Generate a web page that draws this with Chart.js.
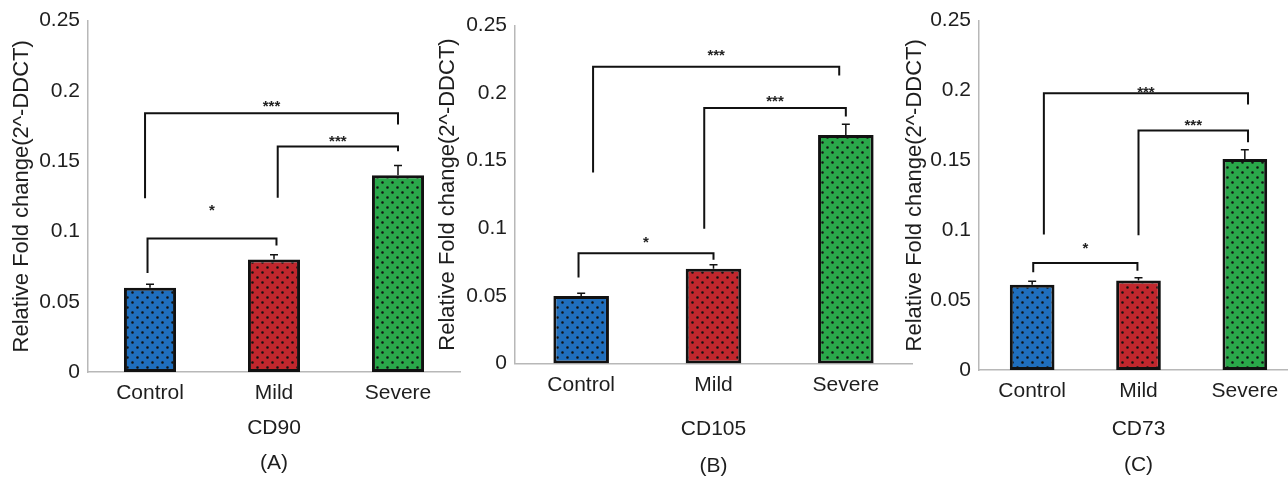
<!DOCTYPE html>
<html lang="en">
  <head>
    <meta charset="UTF-8" />
    <title>Relative Fold change</title>
    <style>
      html,
      body {
        margin: 0;
        padding: 0;
        background: #fff;
        overflow: hidden;
      }
      .panel {
        position: absolute;
        top: 0;
      }
    </style>
  </head>
  <body>
    <canvas id="cd90" class="panel" style="left: 0px" width="470" height="477"></canvas>
    <canvas id="cd105" class="panel" style="left: 430px" width="490" height="477"></canvas>
    <canvas id="cd73" class="panel" style="left: 890px" width="420" height="477"></canvas>

    <script src="https://cdn.jsdelivr.net/npm/chart.js"></script>
    <script>
      const groups = ["Control", "Mild", "Severe"];

      const cd90 = [0.06, 0.08, 0.14];
      const cd90Err = [0.0025, 0.0035, 0.007];
      const cd105 = [0.05, 0.07, 0.169];
      const cd105Err = [0.002, 0.003, 0.008];
      const cd73 = [0.061, 0.064, 0.151];
      const cd73Err = [0.0025, 0.002, 0.0066];

      // significance brackets: [from group, to group, bar height, left leg end, right leg end, stars, star height]
      const cd90Sig = [
        [-0.04, 2.0, 0.184, 0.1236, 0.176, "***", 0.191],
        [1.03, 2.0, 0.1605, 0.124, 0.157, "***", 0.166],
        [-0.02, 1.02, 0.095, 0.0705, 0.09, "*", 0.117],
      ];
      const cd105Sig = [
        [0.09, 1.95, 0.2194, 0.1413, 0.213, "***", 0.23],
        [0.93, 2.0, 0.189, 0.0996, 0.1826, "***", 0.196],
        [-0.02, 1.0, 0.0816, 0.0636, 0.0767, "*", 0.0915],
      ];
      const cd73Sig = [
        [0.11, 2.03, 0.198, 0.097, 0.19, "***", 0.2005],
        [1.0, 2.03, 0.1714, 0.0964, 0.163, "***", 0.177],
        [0.01, 0.99, 0.0766, 0.07, 0.071, "*", 0.089],
      ];

      const yTitle = "Relative Fold change(2^-DDCT)";
      const ink = "#1e1e1e";
      const axisGrey = "#b8b8b8";

      Chart.defaults.font.family = "'Liberation Sans', Arial, sans-serif";
      Chart.defaults.color = ink;

      // dotted fill, staggered rows of small black dots
      function dotted(color) {
        const tile = document.createElement("canvas");
        tile.width = 10;
        tile.height = 10;
        const c = tile.getContext("2d");
        c.fillStyle = color;
        c.fillRect(0, 0, 10, 10);
        c.fillStyle = "#111";
        c.beginPath();
        c.arc(2.5, 2.5, 1.3, 0, Math.PI * 2);
        c.arc(7.5, 7.5, 1.3, 0, Math.PI * 2);
        c.fill();
        return c.createPattern(tile, "repeat");
      }

      const barColors = ["#1f6ebd", "#c0272d", "#2aa84a"];

      const errorBars = (errors) => ({
        id: "errorBars",
        afterDatasetsDraw(chart) {
          const { ctx } = chart;
          const y = chart.scales.y;
          const values = chart.data.datasets[0].data;
          ctx.save();
          ctx.strokeStyle = "#111";
          ctx.lineWidth = 1.5;
          chart.getDatasetMeta(0).data.forEach((bar, i) => {
            const top = y.getPixelForValue(values[i] + errors[i]);
            ctx.beginPath();
            ctx.moveTo(bar.x, bar.y);
            ctx.lineTo(bar.x, top);
            ctx.moveTo(bar.x - 4, top);
            ctx.lineTo(bar.x + 4, top);
            ctx.stroke();
          });
          ctx.restore();
        },
      });

      const brackets = (pairs) => ({
        id: "brackets",
        afterDraw(chart) {
          const { ctx } = chart;
          const { x, y } = chart.scales;
          ctx.save();
          ctx.strokeStyle = "#111";
          ctx.lineWidth = 2;
          ctx.fillStyle = "#222";
          ctx.font = "bold 15px 'Liberation Sans', Arial, sans-serif";
          ctx.textAlign = "center";
          ctx.textBaseline = "middle";
          pairs.forEach(([a, b, top, endA, endB, mark, markY]) => {
            const xa = x.getPixelForValue(a);
            const xb = x.getPixelForValue(b);
            const yt = y.getPixelForValue(top);
            ctx.beginPath();
            ctx.moveTo(xa, y.getPixelForValue(endA));
            ctx.lineTo(xa, yt);
            ctx.lineTo(xb, yt);
            ctx.lineTo(xb, y.getPixelForValue(endB));
            ctx.stroke();
            ctx.fillText(mark, (xa + xb) / 2, y.getPixelForValue(markY) + 3);
          });
          ctx.restore();
        },
      });

      function makePanel(id, values, errors, sig, marker, letter, box) {
        return new Chart(document.getElementById(id), {
          type: "bar",
          data: {
            labels: groups,
            datasets: [
              {
                data: values,
                backgroundColor: barColors.map(dotted),
                borderColor: "#111",
                borderWidth: 3,
                borderSkipped: false,
                barPercentage: 0.42,
                categoryPercentage: 1,
              },
            ],
          },
          options: {
            responsive: false,
            animation: false,
            events: [],
            layout: { padding: { top: box.top, right: box.right, left: 0, bottom: 0 } },
            plugins: {
              legend: { display: false },
              tooltip: { enabled: false },
            },
            scales: {
              x: {
                offset: true,
                grid: { display: false, drawTicks: false },
                border: { display: true, color: axisGrey, width: 1.5 },
                ticks: { color: ink, padding: 9, font: { size: 21 } },
                title: {
                  display: true,
                  text: [marker, letter],
                  color: ink,
                  font: { size: 21, lineHeight: box.lh / 21 },
                  padding: { top: 0, bottom: box.pb },
                },
                afterFit: (s) => {
                  s.height = box.xh;
                },
              },
              y: {
                min: 0,
                max: 0.25,
                grid: { display: false, drawTicks: false },
                border: { display: true, color: axisGrey, width: 1.5 },
                ticks: {
                  stepSize: 0.05,
                  padding: 8,
                  color: ink,
                  font: { size: 21 },
                  callback: (v) => String(parseFloat(v.toFixed(2))),
                },
                title: {
                  display: true,
                  text: yTitle,
                  color: ink,
                  font: { size: 22 },
                  padding: { top: box.tp, bottom: 0 },
                },
                afterFit: (s) => {
                  s.width = box.yw;
                },
              },
            },
          },
          plugins: [errorBars(errors), brackets(sig)],
        });
      }

      makePanel("cd90", cd90, cd90Err, cd90Sig, "CD90", "(A)", {
        top: 20, right: 10, xh: 105, yw: 88, lh: 35, pb: -3.8, tp: 9,
      });
      makePanel("cd105", cd105, cd105Err, cd105Sig, "CD105", "(B)", {
        top: 25.5, right: 8, xh: 113.5, yw: 85, lh: 37, pb: -7.5, tp: 5,
      });
      makePanel("cd73", cd73, cd73Err, cd73Sig, "CD73", "(C)", {
        top: 20, right: 12, xh: 107, yw: 89, lh: 36, pb: -6, tp: 12,
      });
    </script>
  </body>
</html>
